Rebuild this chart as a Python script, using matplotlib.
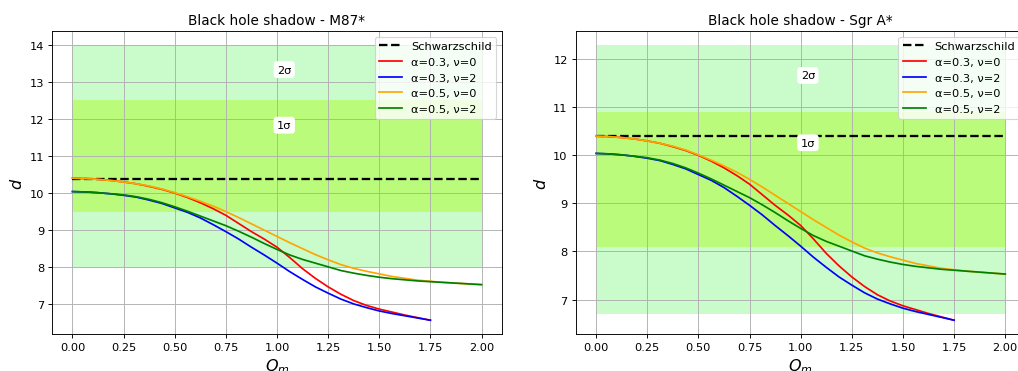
import numpy as np
import matplotlib
matplotlib.use("Agg")
import matplotlib.pyplot as plt

# charge parameter grid (step 1/16)
Q = [0.0, 0.0625, 0.125, 0.1875, 0.25, 0.3125, 0.375, 0.4375,
     0.5, 0.5625, 0.625, 0.6875, 0.75, 0.8125, 0.875, 0.9375,
     1.0, 1.0625, 1.125, 1.1875, 1.25, 1.3125, 1.375, 1.4375,
     1.5, 1.5625, 1.625, 1.6875, 1.75, 1.8125, 1.875, 1.9375, 2.0]

# shadow diameter d(Q_m) for each (alpha, nu) pair
d_a03_n0 = [10.40, 10.39, 10.37, 10.34, 10.30, 10.25, 10.18, 10.10,
            10.00, 9.88, 9.74, 9.58, 9.40, 9.18, 8.96, 8.76,
            8.54, 8.26, 7.96, 7.70, 7.47, 7.27, 7.10, 6.97,
            6.87, 6.79, 6.71, 6.64, 6.57]
d_a03_n2 = [10.04, 10.03, 10.01, 9.98, 9.94, 9.89, 9.81, 9.72,
            9.60, 9.48, 9.33, 9.15, 8.96, 8.76, 8.54, 8.33,
            8.11, 7.88, 7.67, 7.47, 7.30, 7.14, 7.01, 6.91,
            6.82, 6.75, 6.69, 6.63, 6.57]
d_a05_n0 = [10.40, 10.39, 10.37, 10.34, 10.30, 10.25, 10.19, 10.11,
            10.01, 9.90, 9.78, 9.65, 9.50, 9.34, 9.17, 9.00,
            8.83, 8.66, 8.50, 8.34, 8.20, 8.07, 7.97, 7.89,
            7.82, 7.75, 7.70, 7.65, 7.62, 7.59, 7.57, 7.55, 7.53]
d_a05_n2 = [10.04, 10.03, 10.01, 9.98, 9.95, 9.90, 9.83, 9.74,
            9.63, 9.51, 9.38, 9.25, 9.12, 8.97, 8.81, 8.64,
            8.48, 8.33, 8.21, 8.11, 8.01, 7.91, 7.84, 7.78,
            7.73, 7.69, 7.66, 7.63, 7.61, 7.59, 7.57, 7.55, 7.53]

d_schw = 6 * np.sqrt(3)

# observational bounds: (low, high)
m87_1s = (9.5, 12.5)
m87_2s = (8.0, 14.0)
sgra_1s = (8.1, 10.9)
sgra_2s = (6.7, 12.3)

curves = [
    (d_a03_n0, "red", "α=0.3, ν=0"),
    (d_a03_n2, "blue", "α=0.3, ν=2"),
    (d_a05_n0, "orange", "α=0.5, ν=0"),
    (d_a05_n2, "green", "α=0.5, ν=2"),
]


def shadow_panel(ax, title, one_sig, two_sig):
    ax.fill_between([0, 2], two_sig[0], two_sig[1], color="#cafbca", lw=0)
    ax.fill_between([0, 2], one_sig[0], one_sig[1], color="#bbfb7b", lw=0)

    ax.plot([0, 2], [d_schw, d_schw], "k--", lw=2, label="Schwarzschild")
    for d, c, lab in curves:
        ax.plot(Q[:len(d)], d, color=c, lw=1.5, label=lab)

    box = dict(boxstyle="round", fc="white", ec="none")
    ax.text(1.0, (one_sig[1] + two_sig[1]) / 2, "2σ", bbox=box)
    ax.text(1.0, (one_sig[0] + two_sig[1]) / 2, "1σ", bbox=box)

    ax.set_title(title)
    ax.set_xlabel("$Q_m$", fontsize=14)
    ax.set_ylabel("$d$", fontsize=14)
    ax.set_xticks([0, 0.25, 0.5, 0.75, 1.0, 1.25, 1.5, 1.75, 2.0])
    ax.grid(True)
    ax.legend(loc="upper right")


fig = plt.figure(figsize=(1018 / 82, 372 / 82), dpi=82)
ax1 = fig.add_axes([52 / 1018, 37 / 372, 450 / 1018, 303 / 372])
ax2 = fig.add_axes([575.7 / 1018, 37 / 372, 450 / 1018, 303 / 372])

shadow_panel(ax1, "Black hole shadow - M87*", m87_1s, m87_2s)
shadow_panel(ax2, "Black hole shadow - Sgr A*", sgra_1s, sgra_2s)

fig.savefig("out.png", dpi=82)
